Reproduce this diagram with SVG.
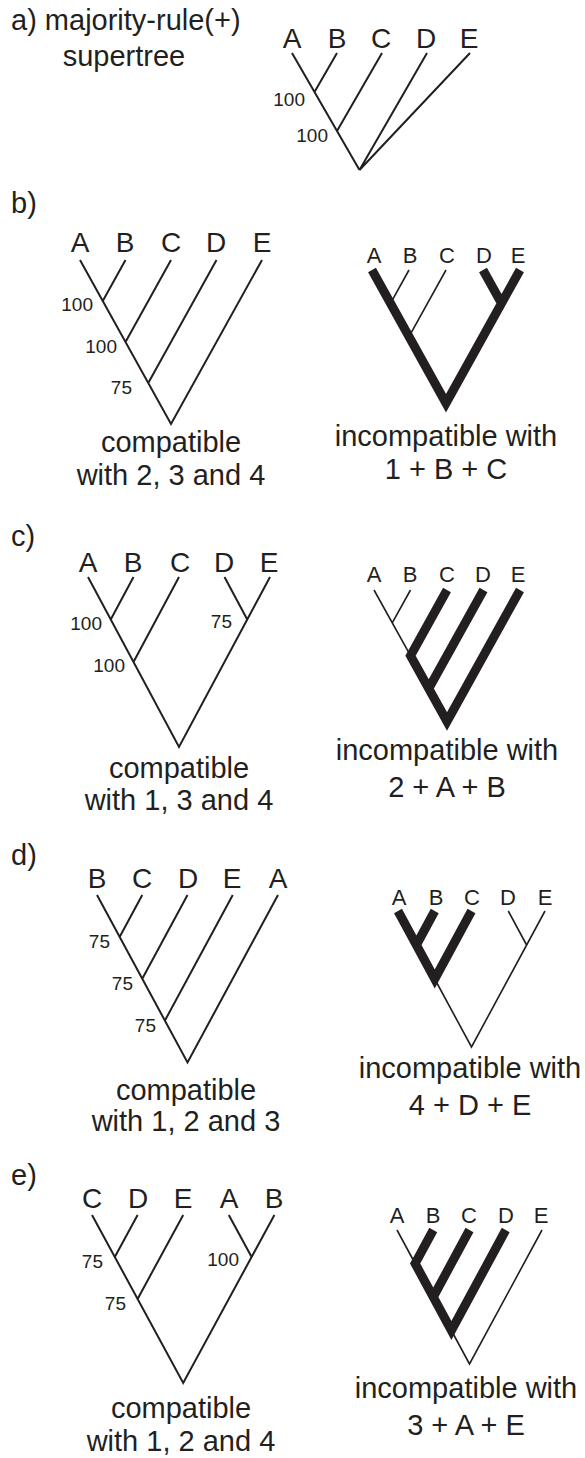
<svg xmlns="http://www.w3.org/2000/svg" width="585" height="1458" viewBox="0 0 585 1458">
<style>
text{font-family:"Liberation Sans",Arial,sans-serif;fill:#231f20}
.cap{font-size:29px;text-anchor:middle}
.hd{font-size:29px}
.lb{font-size:28px;text-anchor:middle}
.sl{font-size:22px;text-anchor:middle}
.num{font-size:19px;text-anchor:end}
.n{stroke:#231f20;stroke-width:2;fill:none}
.t{stroke:#231f20;stroke-width:1.6;fill:none}
.k{stroke:#231f20;stroke-width:9;fill:none;stroke-linejoin:miter;stroke-miterlimit:10}
</style>
<rect width="585" height="1458" fill="#fff"/>

<g id="title">
<text class="hd" x="11" y="30">a) majority-rule(+)</text>
<text class="cap" x="124" y="66">supertree</text>
<text class="hd" x="11" y="213">b)</text>
<text class="hd" x="11" y="546">c)</text>
<text class="hd" x="11" y="865">d)</text>
<text class="hd" x="11" y="1185">e)</text>
</g>

<g id="connectors">
<!-- a -->
<path class="n" d="M292 53L359.5 170M337 53L314.5 92M382 53L337 131M427 53L359.5 170M470 53L359.5 170"/>
<!-- b left -->
<path class="n" d="M80 260L171 424L262 260M125.5 260L102.75 301M171 260L125.5 342M216.5 260L148.25 383"/>
<!-- b right -->
<path class="t" d="M409 270L390.5 303.3M446 270L409 336.6"/>
<path class="k" d="M372 270L446 403.2L520 270M483 270L501.5 303.3"/>
<!-- c left -->
<path class="n" d="M88 577L179 747L270 577M133.5 577L110.75 619.5M179 577L133.5 662M224.5 577L247.25 619.5"/>
<!-- c right -->
<path class="t" d="M374 590L410.5 655.7M410.5 590L392.25 622.9"/>
<path class="k" d="M447 590L410.5 655.7L447 721.4L520 590M483.5 590L428.75 688.5"/>
<!-- d left -->
<path class="n" d="M97 895L187.5 1062.4L278 895M142.25 895L119.6 936.9M187.5 895L142.25 978.7M232.75 895L164.9 1020.6"/>
<!-- d right -->
<path class="t" d="M434.75 979L471.5 1047L545 911M508.25 911L526.6 945"/>
<path class="k" d="M398 911L434.75 979L471.5 911M434.75 911L416.4 945"/>
<!-- e left -->
<path class="n" d="M92 1215L183.2 1382.9L274.4 1215M137.6 1215L114.8 1257M183.2 1215L137.6 1298.9M228.8 1215L251.6 1257"/>
<!-- e right -->
<path class="t" d="M397 1230L415.1 1263.5M451.4 1330.5L469.5 1364L542 1230"/>
<path class="k" d="M433.25 1230L415.1 1263.5L451.4 1330.5L505.75 1230M469.5 1230L433.25 1297"/>
</g>

<g id="tree-a">
<text class="lb" x="292" y="48">A</text><text class="lb" x="337" y="48">B</text><text class="lb" x="381" y="48">C</text><text class="lb" x="426" y="48">D</text><text class="lb" x="469" y="48">E</text>
<text class="num" x="305" y="106">100</text><text class="num" x="328" y="142">100</text>
</g>

<g id="tree-b-left">
<text class="lb" x="80" y="252">A</text><text class="lb" x="125" y="252">B</text><text class="lb" x="171" y="252">C</text><text class="lb" x="216" y="252">D</text><text class="lb" x="262" y="252">E</text>
<text class="num" x="93" y="311">100</text><text class="num" x="117" y="353">100</text><text class="num" x="132" y="394">75</text>
<text class="cap" x="171" y="452">compatible</text><text class="cap" x="171" y="485">with 2, 3 and 4</text>
</g>

<g id="tree-b-right">
<text class="sl" x="374" y="263">A</text><text class="sl" x="410" y="263">B</text><text class="sl" x="447" y="263">C</text><text class="sl" x="484" y="263">D</text><text class="sl" x="518" y="263">E</text>
<text class="cap" x="446" y="446">incompatible with</text><text class="cap" x="446" y="479">1 + B + C</text>
</g>

<g id="tree-c-left">
<text class="lb" x="88" y="572">A</text><text class="lb" x="133" y="572">B</text><text class="lb" x="180" y="572">C</text><text class="lb" x="224" y="572">D</text><text class="lb" x="269" y="572">E</text>
<text class="num" x="102" y="630">100</text><text class="num" x="125" y="672">100</text><text class="num" x="232" y="628">75</text>
<text class="cap" x="179" y="778">compatible</text><text class="cap" x="179" y="810">with 1, 3 and 4</text>
</g>

<g id="tree-c-right">
<text class="sl" x="374" y="582">A</text><text class="sl" x="410" y="582">B</text><text class="sl" x="447" y="582">C</text><text class="sl" x="483" y="582">D</text><text class="sl" x="518" y="582">E</text>
<text class="cap" x="447" y="760">incompatible with</text><text class="cap" x="447" y="797">2 + A + B</text>
</g>

<g id="tree-d-left">
<text class="lb" x="97" y="888">B</text><text class="lb" x="142" y="888">C</text><text class="lb" x="188" y="888">D</text><text class="lb" x="232" y="888">E</text><text class="lb" x="278" y="888">A</text>
<text class="num" x="110" y="948">75</text><text class="num" x="133" y="990">75</text><text class="num" x="156" y="1032">75</text>
<text class="cap" x="186" y="1100">compatible</text><text class="cap" x="186" y="1131">with 1, 2 and 3</text>
</g>

<g id="tree-d-right">
<text class="sl" x="399" y="905">A</text><text class="sl" x="436" y="905">B</text><text class="sl" x="472" y="905">C</text><text class="sl" x="508" y="905">D</text><text class="sl" x="545" y="905">E</text>
<text class="cap" x="470" y="1078">incompatible with</text><text class="cap" x="470" y="1115">4 + D + E</text>
</g>

<g id="tree-e-left">
<text class="lb" x="92" y="1208">C</text><text class="lb" x="138" y="1208">D</text><text class="lb" x="183" y="1208">E</text><text class="lb" x="229" y="1208">A</text><text class="lb" x="274" y="1208">B</text>
<text class="num" x="103" y="1268">75</text><text class="num" x="126" y="1310">75</text><text class="num" x="239" y="1266">100</text>
<text class="cap" x="181" y="1418">compatible</text><text class="cap" x="181" y="1451">with 1, 2 and 4</text>
</g>

<g id="tree-e-right">
<text class="sl" x="397" y="1223">A</text><text class="sl" x="433" y="1223">B</text><text class="sl" x="469" y="1223">C</text><text class="sl" x="506" y="1223">D</text><text class="sl" x="541" y="1223">E</text>
<text class="cap" x="466" y="1398">incompatible with</text><text class="cap" x="466" y="1435">3 + A + E</text>
</g>
</svg>
